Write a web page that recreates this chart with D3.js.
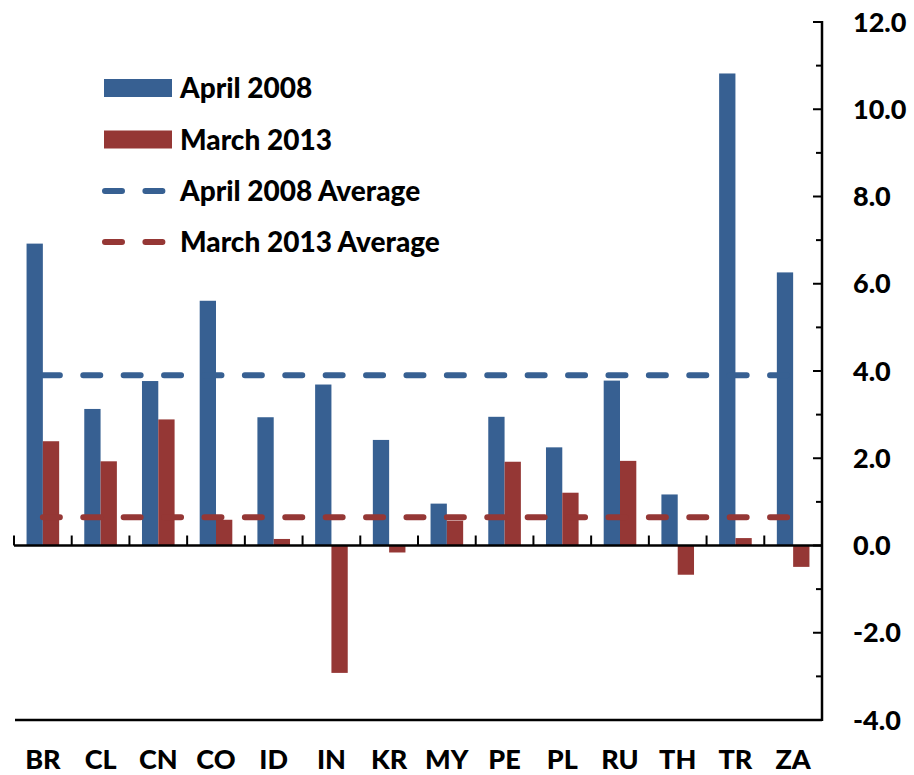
<!DOCTYPE html>
<html>
<head>
<meta charset="utf-8">
<script src="https://cdn.jsdelivr.net/npm/d3@7"></script>
<style>
  body { margin: 0; background: #fff; }
  svg text { font-family: Lato, "Open Sans", sans-serif; font-weight: 900; fill: #000; }
</style>
</head>
<body>
<svg id="chart" width="914" height="775"></svg>
<script>
const countries = ['BR', 'CL', 'CN', 'CO', 'ID', 'IN', 'KR', 'MY', 'PE', 'PL', 'RU', 'TH', 'TR', 'ZA'];
const april2008 = [6.92, 3.13, 3.77, 5.61, 2.94, 3.69, 2.42, 0.96, 2.95, 2.25, 3.78, 1.17, 10.82, 6.26];
const march2013 = [2.39, 1.93, 2.89, 0.59, 0.15, -2.92, -0.16, 0.57, 1.92, 1.21, 1.94, -0.67, 0.17, -0.49];
const april2008Avg = 3.90;
const march2013Avg = 0.65;
const yTicks = [-4, -2, 0, 2, 4, 6, 8, 10, 12];
const seriesNames = ['April 2008', 'March 2013'];
const avgNames = ['April 2008 Average', 'March 2013 Average'];

const BLUE = '#376092', RED = '#953735';

const svg = d3.select('#chart');

let x = d3.scaleBand()
  .domain(countries)
  .range([14, 822])
  .paddingInner(0)
  .paddingOuter(0);

let xs = d3.scaleBand()
  .domain(seriesNames)
  .range([0, x.bandwidth()])
  .paddingInner(0)
  .paddingOuter(0.77);

let y = d3.scaleLinear()
  .domain([-4, 12])
  .range([720, 22]);

const rows = countries.map((c, i) => ({ c, vals: [april2008[i], march2013[i]] }));

// bars
let groups = svg.append('g').selectAll('g')
  .data(rows)
  .join('g')
  .attr('transform', d => `translate(${x(d.c)},0)`);

groups.selectAll('rect')
  .data(d => d.vals.map((v, k) => ({ v, s: seriesNames[k] })))
  .join('rect')
  .attr('x', d => xs(d.s))
  .attr('width', xs.bandwidth())
  .attr('y', d => y(Math.max(0, d.v)))
  .attr('height', d => Math.abs(y(d.v) - y(0)))
  .attr('fill', (d, k) => k === 0 ? BLUE : RED);

// zero line with category ticks
svg.append('line')
  .attr('x1', 14).attr('x2', 822)
  .attr('y1', y(0)).attr('y2', y(0))
  .attr('stroke', '#000').attr('stroke-width', 2.5);

svg.append('g').selectAll('line')
  .data(countries)
  .join('line')
  .attr('x1', d => x(d)).attr('x2', d => x(d))
  .attr('y1', y(0) - 10).attr('y2', y(0))
  .attr('stroke', '#000').attr('stroke-width', 2);

// bottom line
svg.append('line')
  .attr('x1', 15).attr('x2', 822)
  .attr('y1', y(-4)).attr('y2', y(-4))
  .attr('stroke', '#000').attr('stroke-width', 2.5);

// average lines
const first = x(countries[0]) + x.bandwidth() / 2,
  last = x(countries[countries.length - 1]) + x.bandwidth() / 2;

[[april2008Avg, BLUE], [march2013Avg, RED]].forEach(([v, col]) => {
  svg.append('line')
    .attr('x1', first).attr('x2', last)
    .attr('y1', y(v)).attr('y2', y(v))
    .attr('stroke', col)
    .attr('stroke-width', 6)
    .attr('stroke-linecap', 'round')
    .attr('stroke-dasharray', '17,23.4');
});

// right axis
let minor = d3.range(-3, 12, 2);
let axis = svg.append('g');
axis.append('line')
  .attr('x1', 822).attr('x2', 822)
  .attr('y1', y(12) - 1).attr('y2', y(-4) + 1)
  .attr('stroke', '#000').attr('stroke-width', 2.5);
axis.selectAll('line.major')
  .data(yTicks)
  .join('line')
  .attr('class', 'major')
  .attr('x1', 813).attr('x2', 822)
  .attr('y1', d => y(d)).attr('y2', d => y(d))
  .attr('stroke', '#000').attr('stroke-width', 2);
axis.selectAll('line.minor')
  .data(minor)
  .join('line')
  .attr('class', 'minor')
  .attr('x1', 816).attr('x2', 822)
  .attr('y1', d => y(d)).attr('y2', d => y(d))
  .attr('stroke', '#000').attr('stroke-width', 2);
axis.selectAll('text')
  .data(yTicks)
  .join('text')
  .attr('x', 853)
  .attr('y', d => y(d))
  .attr('dy', '0.36em')
  .attr('font-size', 27)
  .text(d => d.toFixed(1));

// category labels
svg.append('g').selectAll('text')
  .data(countries)
  .join('text')
  .attr('x', d => x(d) + x.bandwidth() / 2)
  .attr('y', 769)
  .attr('text-anchor', 'middle')
  .attr('font-size', 27)
  .text(d => d);

// legend
let legend = svg.append('g');
seriesNames.forEach((name, i) => {
  let cy = 88 + i * 51.5;
  legend.append('rect')
    .attr('x', 104).attr('y', cy - 9)
    .attr('width', 68).attr('height', 18)
    .attr('fill', i === 0 ? BLUE : RED);
  legend.append('text')
    .attr('x', 180).attr('y', cy).attr('dy', '0.36em')
    .attr('font-size', 28)
    .text(name);
});
avgNames.forEach((name, i) => {
  let cy = 191 + i * 51;
  legend.append('line')
    .attr('x1', 105).attr('x2', 164)
    .attr('y1', cy).attr('y2', cy)
    .attr('stroke', i === 0 ? BLUE : RED)
    .attr('stroke-width', 6)
    .attr('stroke-linecap', 'round')
    .attr('stroke-dasharray', '17,23.4');
  legend.append('text')
    .attr('x', 180).attr('y', cy).attr('dy', '0.36em')
    .attr('font-size', 28)
    .text(name);
});
</script>
</body>
</html>
